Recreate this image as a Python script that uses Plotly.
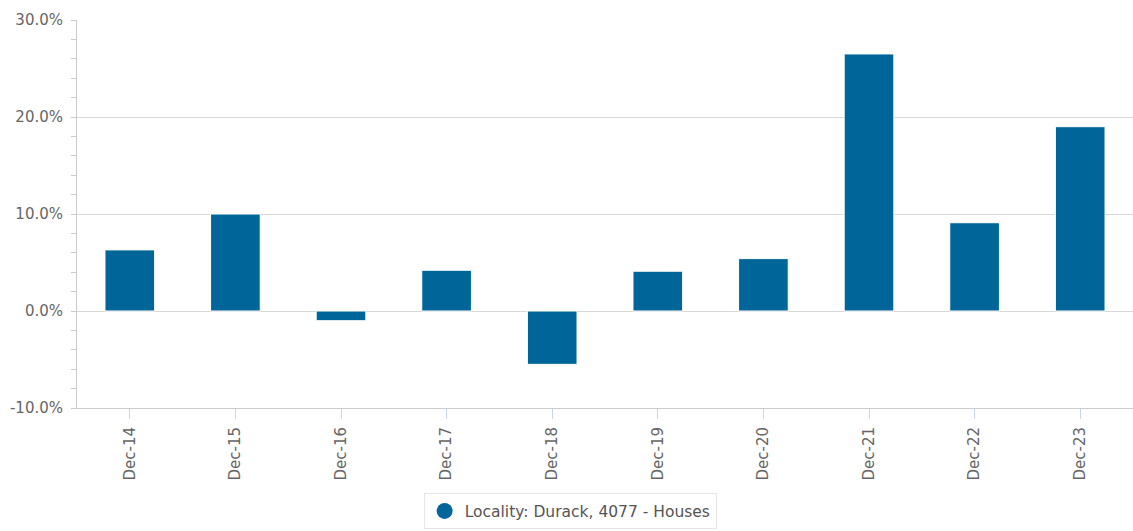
import plotly.graph_objects as go

categories = ["Dec-14", "Dec-15", "Dec-16", "Dec-17", "Dec-18",
              "Dec-19", "Dec-20", "Dec-21", "Dec-22", "Dec-23"]
growth_pct = [6.3, 10.0, -1.0, 4.2, -5.5, 4.1, 5.4, 26.5, 9.1, 19.0]
series_name = "Locality: Durack, 4077 - Houses"
y_ticks = [-10, 0, 10, 20, 30]
y_tick_text = ["-10.0%", "0.0%", "10.0%", "20.0%", "30.0%"]

bar_color = "#006699"

fig = go.Figure()
fig.add_trace(go.Bar(
    x=categories, y=growth_pct, name=series_name,
    marker=dict(color=bar_color, line=dict(color="#ffffff", width=1)),
    showlegend=False,
))
fig.add_trace(go.Scatter(
    x=[None], y=[None], mode="markers", name=series_name,
    marker=dict(color=bar_color, size=16, symbol="circle"),
))

fig.update_layout(
    width=1133, height=531,
    margin=dict(l=77, r=0, t=20, b=123, autoexpand=False),
    plot_bgcolor="white", paper_bgcolor="white",
    font=dict(family="DejaVu Sans", size=15, color="#666666"),
    bargap=0.53,
    legend=dict(
        orientation="h", x=0.467, xanchor="center", y=-0.22, yanchor="top",
        bordercolor="#e6e6e6", borderwidth=1, bgcolor="white",
        font=dict(family="DejaVu Sans", size=15.5, color="#555555"),
        itemsizing="trace",
    ),
    xaxis=dict(
        showgrid=False, showline=True, linecolor="#cccccc", linewidth=1,
        ticks="outside", ticklen=10, tickcolor="#ccd6eb",
        tickangle=-90, tickfont=dict(size=15, color="#666666"),
        ticklabelstandoff=2,
        automargin=False,
    ),
    yaxis=dict(
        range=[-10, 30], tickvals=y_ticks, ticktext=y_tick_text,
        showgrid=True, gridcolor="#d8d8d8", gridwidth=1,
        showline=True, linecolor="#cccccc", linewidth=1,
        zeroline=False,
        ticks="outside", ticklen=5, tickcolor="#cccccc",
        minor=dict(dtick=2, ticks="outside", ticklen=5, tickcolor="#cccccc", showgrid=False),
        tickfont=dict(size=15, color="#666666"),
        ticklabelstandoff=5,
        automargin=False,
    ),
)

fig.write_html(
    "out.html",
    config={"displayModeBar": False},
    post_script="document.body.style.margin='0';document.body.style.overflow='hidden';",
)
